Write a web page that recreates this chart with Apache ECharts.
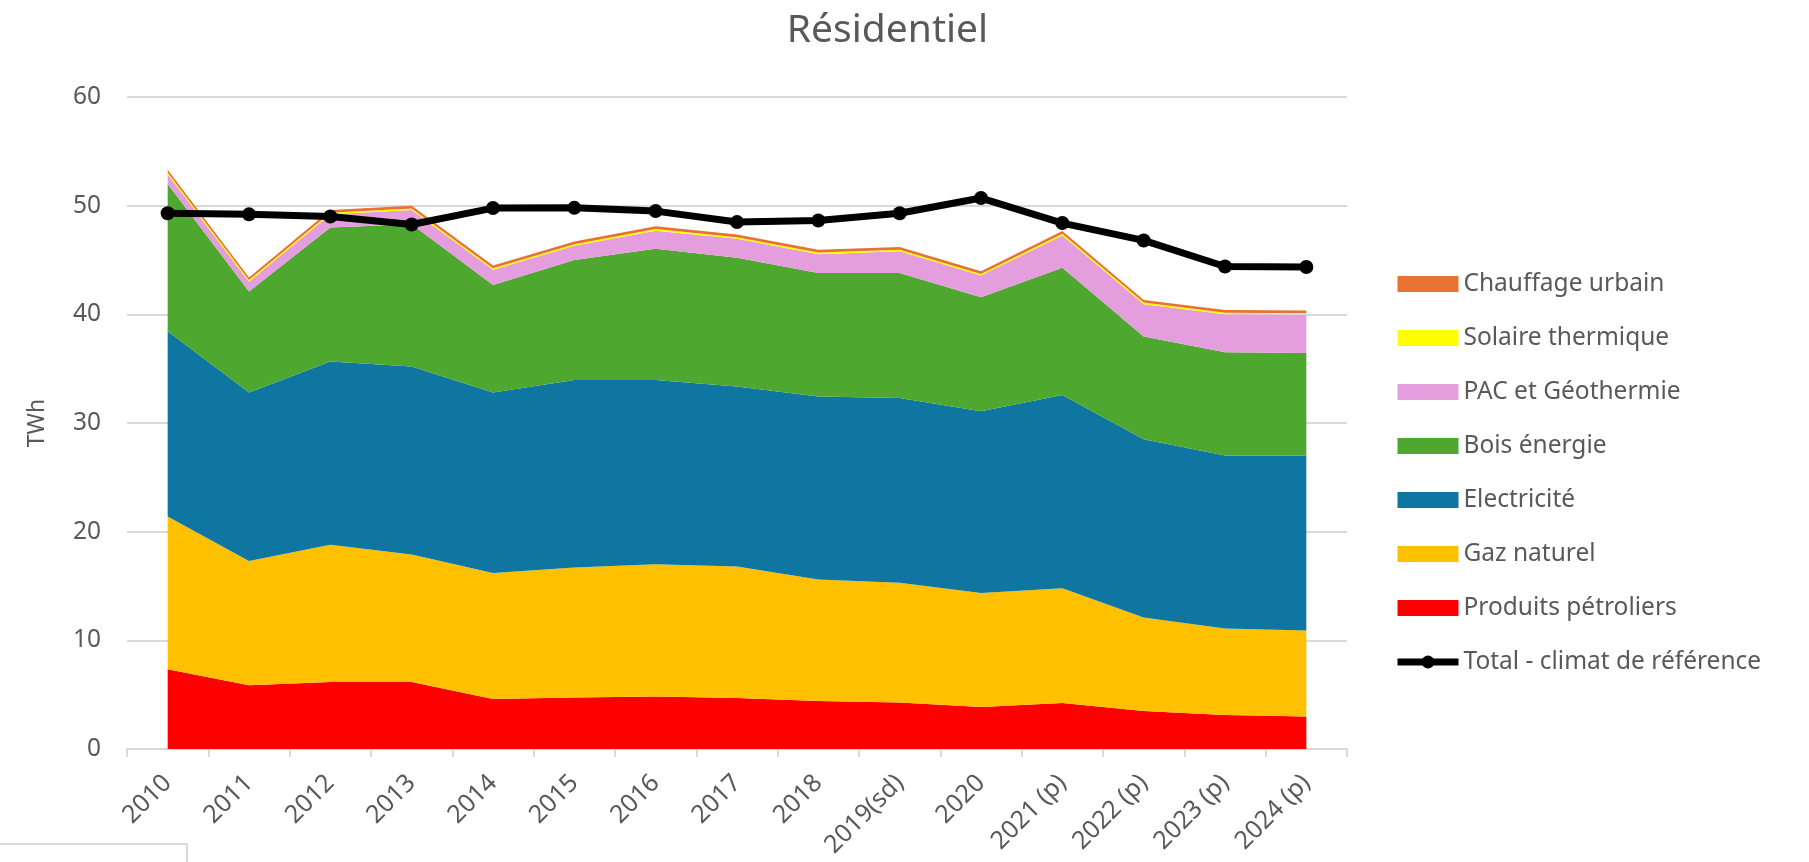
<!DOCTYPE html>
<html>
<head>
<meta charset="utf-8">
<script src="https://cdn.jsdelivr.net/npm/echarts@6/dist/echarts.min.js"></script>
<style>
html,body{margin:0;padding:0;background:#fff;}
#chart{width:1809px;height:862px;}
</style>
</head>
<body>
<div id="chart"></div>
<script>
const categories = ['2010','2011','2012','2013','2014','2015','2016','2017','2018','2019(sd)','2020','2021 (p)','2022 (p)','2023 (p)','2024 (p)'];
const produitsPetroliers = [7.35, 5.87, 6.17, 6.17, 4.6, 4.73, 4.82, 4.7, 4.42, 4.27, 3.87, 4.24, 3.5, 3.13, 3.0];
const gazNaturel = [14.05, 11.43, 12.63, 11.73, 11.6, 11.97, 12.18, 12.1, 11.18, 11.03, 10.48, 10.56, 8.6, 7.97, 7.9];
const electricite = [17.05, 15.5, 16.85, 17.3, 16.6, 17.26, 16.96, 16.55, 16.83, 17.0, 16.73, 17.78, 16.4, 15.9, 16.1];
const boisEnergie = [13.55, 9.3, 12.35, 13.1, 9.9, 11.04, 12.07, 11.85, 11.37, 11.5, 10.5, 11.7, 9.45, 9.5, 9.45];
const pacGeothermie = [0.9, 0.9, 1.2, 1.3, 1.4, 1.3, 1.67, 1.75, 1.74, 2.0, 1.99, 2.98, 2.98, 3.5, 3.5];
const solaireThermique = [0.15, 0.15, 0.15, 0.15, 0.15, 0.15, 0.15, 0.15, 0.15, 0.15, 0.15, 0.15, 0.15, 0.15, 0.15];
const chauffageUrbain = [0.25, 0.25, 0.25, 0.25, 0.25, 0.25, 0.25, 0.25, 0.25, 0.25, 0.25, 0.25, 0.25, 0.25, 0.25];
const totalClimatReference = [49.3, 49.2, 49.0, 48.27, 49.78, 49.8, 49.5, 48.49, 48.64, 49.3, 50.7, 48.4, 46.8, 44.4, 44.35];
const yTicks = {min: 0, max: 60, interval: 10};

const FONT = '"Noto Sans", "DejaVu Sans", sans-serif';
const TXT = '#595959';

function areaSeries(name, data, color) {
  return {
    name: name, type: 'line', stack: 'total', data: data,
    symbol: 'none', showSymbol: false,
    lineStyle: {width: 0, color: color},
    itemStyle: {color: color},
    areaStyle: {color: color, opacity: 1},
    emphasis: {disabled: true},
    z: 2
  };
}

const chart = echarts.init(document.getElementById('chart'), null, {renderer: 'canvas'});
chart.setOption({
  animation: false,
  backgroundColor: '#ffffff',
  title: {
    text: 'Résidentiel',
    left: 882.5, top: 6, textAlign: 'center',
    textStyle: {fontFamily: FONT, fontSize: 39, fontWeight: 'normal', color: TXT}
  },
  grid: {left: 127, right: 462, top: 97, bottom: 113, containLabel: false},
  legend: {
    orient: 'vertical', left: 1389, top: 266,
    itemWidth: 61, itemHeight: 16, itemGap: 28,
    textStyle: {fontFamily: FONT, fontSize: 24.5, color: TXT, lineHeight: 26},
    data: [
      {name: 'Chauffage urbain', icon: 'rect'},
      {name: 'Solaire thermique', icon: 'rect'},
      {name: 'PAC et Géothermie', icon: 'rect'},
      {name: 'Bois énergie', icon: 'rect'},
      {name: 'Electricité', icon: 'rect'},
      {name: 'Gaz naturel', icon: 'rect'},
      {name: 'Produits pétroliers', icon: 'rect'},
      {name: 'Total - climat de référence', lineStyle: {width: 7, color: '#000000'}, itemStyle: {color: '#000000'}}
    ]
  },
  xAxis: {
    type: 'category', data: categories, boundaryGap: true,
    axisLine: {show: true, lineStyle: {color: '#d9d9d9', width: 2}},
    axisTick: {show: true, length: 8, lineStyle: {color: '#d9d9d9', width: 2}, alignWithLabel: false},
    axisLabel: {rotate: 45, margin: 30, interval: 0, fontFamily: FONT, fontSize: 25, color: TXT},
    splitLine: {show: false}
  },
  yAxis: {
    type: 'value', min: yTicks.min, max: yTicks.max, interval: yTicks.interval,
    name: 'TWh', nameLocation: 'middle', nameRotate: 90, nameGap: 78,
    nameTextStyle: {fontFamily: FONT, fontSize: 23, color: TXT},
    axisLine: {show: false}, axisTick: {show: false},
    axisLabel: {margin: 26, fontFamily: FONT, fontSize: 24.5, color: TXT},
    splitLine: {lineStyle: {color: '#d9d9d9', width: 2}}
  },
  series: [
    areaSeries('Produits pétroliers', produitsPetroliers, '#FF0000'),
    areaSeries('Gaz naturel', gazNaturel, '#FFC000'),
    areaSeries('Electricité', electricite, '#0E76A0'),
    areaSeries('Bois énergie', boisEnergie, '#4EA72E'),
    areaSeries('PAC et Géothermie', pacGeothermie, '#E49EDD'),
    areaSeries('Solaire thermique', solaireThermique, '#FFFF00'),
    areaSeries('Chauffage urbain', chauffageUrbain, '#E97132'),
    {
      name: 'Total - climat de référence', type: 'line', data: totalClimatReference,
      symbol: 'circle', symbolSize: 14, showSymbol: true,
      lineStyle: {color: '#000000', width: 7},
      itemStyle: {color: '#000000'},
      emphasis: {disabled: true},
      z: 5
    }
  ],
  graphic: [{
    type: 'rect',
    shape: {x: -2, y: 844, width: 189, height: 30},
    style: {fill: 'none', stroke: '#d9d9d9', lineWidth: 2},
    silent: true
  }]
});
</script>
</body>
</html>
